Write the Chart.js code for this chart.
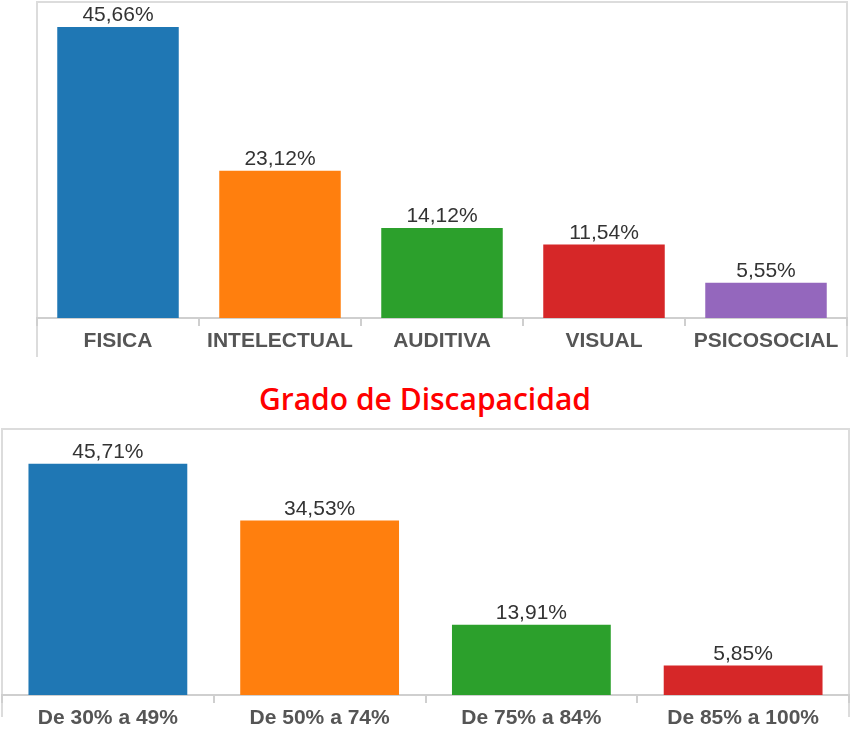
<!DOCTYPE html>
<html lang="es">
<head>
  <meta charset="UTF-8">
  <title>Discapacidad</title>
  <script src="https://cdn.jsdelivr.net/npm/chart.js"></script>
  <style>
    html, body {
      margin: 0;
      padding: 0;
      background: #fff;
    }
    body {
      position: relative;
      width: 850px;
      height: 738px;
      overflow: hidden;
    }
    #chart-tipo {
      position: absolute;
      left: 36px;
      top: 0;
    }
    #chart-grado {
      position: absolute;
      left: 0;
      top: 427px;
    }
    .title {
      position: absolute;
      left: 0;
      width: 850px;
      top: 379px;
      text-align: center;
      color: #ff0000;
      font-family: "Open Sans", sans-serif;
      font-weight: 600;
      font-size: 30px;
      line-height: 40px;
    }
  </style>
</head>
<body>

<canvas id="chart-tipo" width="814" height="360"></canvas>
<div class="title">Grado de Discapacidad</div>
<canvas id="chart-grado" width="850" height="311"></canvas>

<script>
  // tipo de discapacidad
  const tipoLabels = ["FISICA", "INTELECTUAL", "AUDITIVA", "VISUAL", "PSICOSOCIAL"];
  const tipoValues = [45.66, 23.12, 14.12, 11.54, 5.55];
  const tipoMax = 49.6;

  // grado de discapacidad
  const gradoLabels = ["De 30% a 49%", "De 50% a 74%", "De 75% a 84%", "De 85% a 100%"];
  const gradoValues = [45.71, 34.53, 13.91, 5.85];
  const gradoMax = 52.6;

  const colors = ["#1f77b4", "#ff7f0e", "#2ca02c", "#d62728", "#9467bd"];

  const fmt = v => v.toFixed(2).replace(".", ",") + "%";

  // percentage text above each bar
  const valueLabels = {
    id: "valueLabels",
    afterDatasetsDraw(chart) {
      const ctx = chart.ctx;
      const ds = chart.data.datasets[0];
      ctx.save();
      ctx.font = "21px 'Liberation Sans', Arial, sans-serif";
      ctx.fillStyle = "#333";
      ctx.textAlign = "center";
      ctx.textBaseline = "bottom";
      chart.getDatasetMeta(0).data.forEach((bar, i) => {
        ctx.fillText(fmt(ds.data[i]), bar.x, bar.y - 1);
      });
      ctx.restore();
    }
  };

  // light grey frame round the plot
  const frame = {
    id: "frame",
    beforeDraw(chart, args, opts) {
      const ctx = chart.ctx;
      const a = chart.chartArea;
      ctx.save();
      ctx.strokeStyle = "#dcdcdc";
      ctx.lineWidth = 2;
      ctx.beginPath();
      ctx.moveTo(a.left, opts.bottom);
      ctx.lineTo(a.left, a.top);
      ctx.lineTo(a.right, a.top);
      ctx.lineTo(a.right, opts.bottom);
      ctx.stroke();
      ctx.restore();
    }
  };

  function makeChart(id, labels, values, max, pad, axisHeight, frameBottom) {
    const ctx = document.getElementById(id).getContext("2d");
    return new Chart(ctx, {
      type: "bar",
      data: {
        labels: labels,
        datasets: [{
          data: values,
          backgroundColor: colors.slice(0, values.length),
          barPercentage: 0.75,
          categoryPercentage: 1.0
        }]
      },
      options: {
        responsive: false,
        animation: false,
        devicePixelRatio: 1,
        layout: { padding: pad },
        plugins: {
          legend: { display: false },
          tooltip: { enabled: false },
          frame: { bottom: frameBottom }
        },
        scales: {
          x: {
            offset: true,
            grid: {
              display: true,
              drawOnChartArea: false,
              drawTicks: true,
              tickLength: 8,
              color: "#cfcfcf",
              lineWidth: 2
            },
            border: { display: true, color: "#cfcfcf", width: 2 },
            ticks: {
              color: "#555",
              padding: 3,
              font: { family: "'Liberation Sans', Arial, sans-serif", size: 21, weight: "bold" }
            },
            afterFit(scale) { scale.height = axisHeight; }
          },
          y: {
            display: false,
            min: 0,
            max: max
          }
        }
      },
      plugins: [frame, valueLabels]
    });
  }

  makeChart("chart-tipo", tipoLabels, tipoValues, tipoMax,
    { top: 2, left: 1, right: 3, bottom: 0 }, 42, 357);
  makeChart("chart-grado", gradoLabels, gradoValues, gradoMax,
    { top: 2, left: 2, right: 1, bottom: 0 }, 43, 290);
</script>

</body>
</html>
